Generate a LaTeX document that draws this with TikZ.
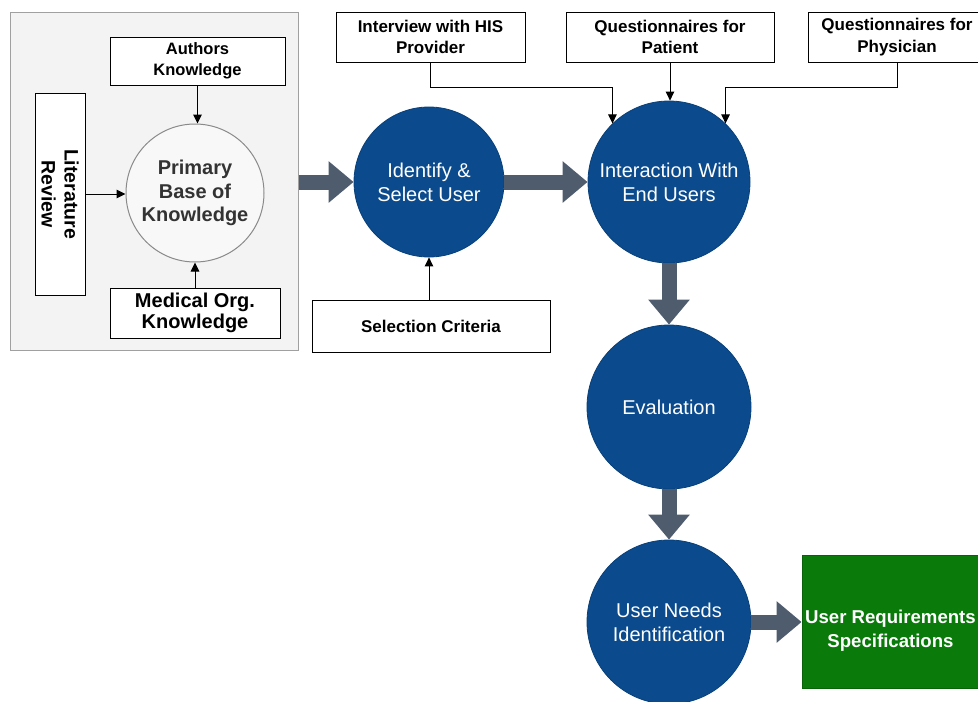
\documentclass[tikz,border=0pt]{standalone}
\usepackage{fontspec}
\setmainfont{Liberation Sans}
\usetikzlibrary{arrows.meta,calc}
\definecolor{nodeblue}{HTML}{0B4A8C}
\definecolor{nodeblueedge}{HTML}{08407A}
\definecolor{fatgray}{HTML}{4E5C6E}
\definecolor{reqgreen}{HTML}{0A7A0A}
\definecolor{panelgray}{HTML}{F3F3F3}
\definecolor{paneledge}{HTML}{A0A0A0}
\definecolor{primedge}{HTML}{8A8A8A}
\definecolor{primtext}{HTML}{333333}
\begin{document}
\begin{tikzpicture}[x=1pt,y=-1pt,
  box/.style={draw=black, line width=1pt, fill=white, rectangle, inner sep=0pt, align=center,
    font=\bfseries\fontsize{17}{21.5}\selectfont},
  bigbox/.style={box, font=\bfseries\fontsize{20}{21.5}\selectfont},
  bluecirc/.style={circle, fill=nodeblue, draw=nodeblueedge, line width=0.8pt, inner sep=0pt,
    text=white, align=center, font=\fontsize{20}{24}\selectfont},
  fatarrow/.style={draw=fatgray, line width=15pt, -{Triangle[width=40pt,length=25pt]}},
  conn/.style={draw=black, line width=1pt, -{Triangle[width=8.5pt,length=9pt]}}
]
\useasboundingbox (0,0) rectangle (978,702);

% left panel
\node[draw=paneledge, fill=panelgray, line width=1pt, minimum width=288pt, minimum height=338pt, inner sep=0pt] (panel) at (154,181) {};
\node[box, font=\bfseries\fontsize{16.5}{20.5}\selectfont, minimum width=175pt, minimum height=48pt] (authors) at (197.5,61) {Authors\\Knowledge};
\node[box, font=\bfseries\fontsize{19.5}{23}\selectfont, rotate=-90, minimum width=202pt, minimum height=50pt] (lit) at (60,194) {Literature\\Review};
\node[circle, draw=primedge, fill=panelgray!60!white, line width=1pt, minimum size=138pt, inner sep=0pt, align=center,
  text=primtext, font=\bfseries\fontsize{20}{23.5}\selectfont] (prim) at (195,193) {Primary\\Base of\\Knowledge};
\node[bigbox, minimum width=170pt, minimum height=50pt] (medical) at (195,313) {Medical Org.\\Knowledge};

\draw[conn] (authors.south) -- (authors.south |- prim.north);
\draw[conn] (lit.north) -- (lit.north -| prim.west);
\draw[conn] (medical.north) -- (medical.north |- prim.south);

% main flow
\node[bluecirc, minimum size=150pt] (ident) at (429,182) {Identify \&\\Select User};
\node[box, minimum width=238pt, minimum height=52pt] (sel) at (431,326) {Selection Criteria};
\node[bluecirc, minimum size=162pt] (inter) at (669,182) {Interaction With\\End Users};
\node[bluecirc, minimum size=164pt] (eval) at (669,407) {Evaluation};
\node[bluecirc, minimum size=164pt] (needs) at (669,622) {User Needs\\Identification};
\node[rectangle, fill=reqgreen, draw=reqgreen!80!black, line width=0.8pt, minimum width=178pt, minimum height=133pt,
  inner sep=0pt] (req) at (891,621.5) {};
\node[text=white, align=center, inner sep=0pt, font=\bfseries\fontsize{18.6}{23.5}\selectfont] (reqtext) at ($(req.center)+(-0.5,9)$) {User Requirements\\Specifications};

% top boxes
\node[box, minimum width=189pt, minimum height=50pt] (interview) at (430.5,37) {Interview with HIS\\Provider};
\node[box, minimum width=208pt, minimum height=50pt] (patient) at (670,37) {Questionnaires for\\Patient};
\node[box, minimum width=178pt, minimum height=50pt] (physician) at (897,37) {Questionnaires for\\Physician};

\draw[conn] (interview.south) -- ++(0,25) -| (inter.134);
\draw[conn] (patient.south) -- (patient.south |- inter.north);
\draw[conn] (physician.south) -- ++(0,25) -| (inter.46);
\draw[conn] (sel.north -| ident.south) -- (ident.south);

% fat arrows
\draw[fatarrow] (panel.east |- ident.west) -- (ident.west);
\draw[fatarrow] (ident.east) -- (inter.west);
\draw[fatarrow] (inter.south) -- (eval.north);
\draw[fatarrow] (eval.south) -- (needs.north);
\draw[fatarrow] (needs.east) -- (needs.east -| req.west);
\end{tikzpicture}
\end{document}
